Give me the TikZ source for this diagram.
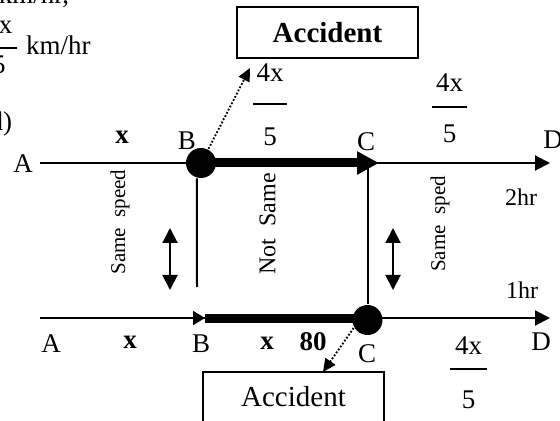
\documentclass[tikz,border=0pt]{standalone}
\usepackage{fontspec}
\setmainfont{Liberation Serif}
\usetikzlibrary{arrows.meta}

\begin{document}
\begin{tikzpicture}[x=0.5pt,y=-0.5pt,line width=1pt,
	every node/.style={inner sep=0pt},
	every label/.style={inner sep=0pt, font=\fontsize{13.5}{16}\selectfont},
	lbl/.style={font=\fontsize{13.5}{16}\selectfont},
	blbl/.style={font=\fontsize{13.5}{16}\selectfont\bfseries},
	side/.style={rotate=90, font=\fontsize{10.5}{12}\selectfont},
	dot/.style={circle, fill, minimum size=15pt},
	bar/.style={fill, minimum height=1pt, minimum width=#1},
	thin/.style={-{Triangle[length=7.5pt,width=7.5pt]}},
	heavy/.style={line width=4.5pt},
	dotty/.style={line width=0.9pt, dash pattern=on 0.9pt off 0.9pt, -{Triangle[length=6.5pt,width=6pt]}},
	both/.style={{Triangle[length=7.5pt,width=7.5pt]}-{Triangle[length=7.5pt,width=7.5pt]}},
	box/.style={draw, minimum width=90.5pt, minimum height=25.5pt, font=\fontsize{14.5}{17}\selectfont}]
\clip (0,0) rectangle (560,421);

	% text cut off at the left
	\node[lbl, anchor=base east] (t0) at (70,4) {km/hr,};
	\node[bar=18pt, label={[label distance=5.5pt]above:4x}, label={[label distance=2.5pt]below:5}] (f0) at (-1,48) {};
	\node[lbl, anchor=base west] (t1) at (25,55) {km/hr};
	\node[lbl, anchor=base east] (t2) at (13,131) {(d)};

	% first journey
	\coordinate (a1) at (40,163);
	\coordinate (c1) at (379,163);
	\coordinate (d1) at (550,163);
	\coordinate (tipa) at (250,68);
	\coordinate (bv) at (197,287);
	\coordinate (cv) at (367.5,163);
	\node[dot] (bdot) at (201,163) {};
	\node[box, font=\fontsize{14.5}{17}\selectfont\bfseries] (acc1) at (327.5,32.5) {Accident};
	\node[lbl] (la1) at (23,164) {A};
	\node[blbl] (x1) at (122,137) {x};
	\node[lbl] (lb1) at (187,141) {B};
	\node[lbl] (lc1) at (366,142) {C};
	\node[lbl] (ld1) at (553,140) {D};
	\node[lbl, font=\fontsize{12}{14}\selectfont] (h2) at (521,197) {2hr};
	\node[bar=17pt, label={[label distance=9.5pt]above:4x}, label={[label distance=10.5pt]below:5}] (f1) at (270,104) {};
	\node[bar=17.5pt, label={[label distance=6pt]above:4x}, label={[label distance=7.5pt]below:5}] (f2) at (449.5,107) {};

	\draw[thin] (a1) -- (d1);
	\draw[heavy, -{Triangle[length=11pt,width=11pt]}] (bdot.center) -- (c1);
	\draw[dotty] (bdot.62) -- (tipa);
	\draw (bdot.255) -- (bv);

	% second journey
	\coordinate (a2) at (40,318);
	\coordinate (b2) at (205,318);
	\coordinate (d2) at (550,318);
	\coordinate (tipb) at (323,372);
	\node[dot] (cdot) at (367.5,320) {};
	\node[box] (acc2) at (293.5,397) {Accident};
	\node[lbl] (la2) at (51,344) {A};
	\node[blbl] (x2) at (130,342) {x};
	\node[lbl] (lb2) at (201,344) {B};
	\node[blbl] (x3) at (267,343) {x};
	\node[blbl] (n80) at (313,342) {80};
	\node[lbl] (lc2) at (367,354) {C};
	\node[lbl] (ld2) at (541,342) {D};
	\node[lbl, font=\fontsize{12}{14}\selectfont] (h1) at (522,290) {1hr};
	\node[bar=18.5pt, label={[label distance=6pt]above:4x}, label={[label distance=9.5pt]below:5}] (f3) at (468.5,369) {};

	\draw[thin] (a2) -- (d2);
	\draw[-{Triangle[length=6pt,width=7pt]}] (a2) -- (b2);
	\draw[heavy] (b2) -- (b2 -| cdot);
	\draw[dotty] (cdot.210) -- (tipb);
	\draw (cv) -- (cdot.north);

	% between the lines
	\coordinate (u1) at (170,228);
	\coordinate (u2) at (170,290);
	\coordinate (v1) at (393,228);
	\coordinate (v2) at (393,290);
	\node[side] (s1) at (120,222) {Same\ \ speed};
	\node[side, font=\fontsize{12}{14}\selectfont] (ns) at (267.5,224) {Not\ \ Same};
	\node[side] (s2) at (440,224) {Same\ \ sped};
	\draw[both] (u1) -- (u2);
	\draw[both] (v1) -- (v2);
\end{tikzpicture}
\end{document}
